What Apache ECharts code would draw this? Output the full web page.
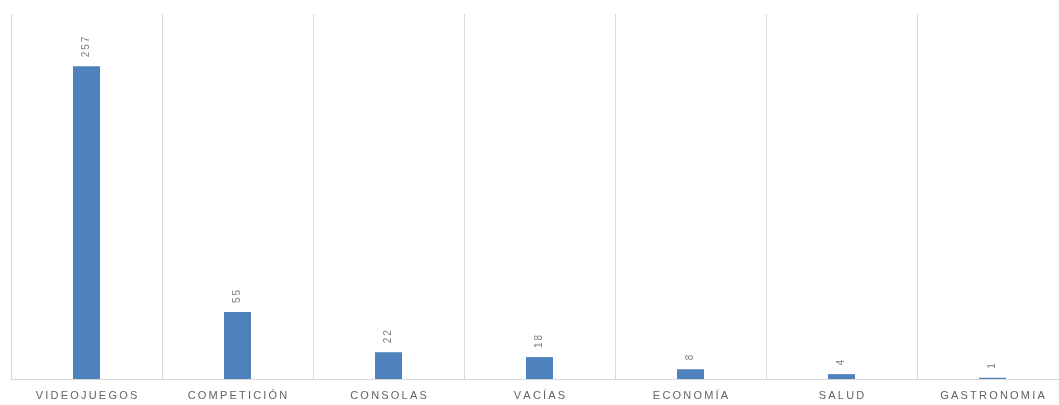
<!DOCTYPE html>
<html>
<head>
    <meta charset="utf-8" />
    <title></title>
    <style>
        html, body { margin: 0; padding: 0; background: #fff; }
        #chart { width: 1059px; height: 405px; }
    </style>
</head>
<body>
    <div id="chart"></div>
    <script src="https://cdn.jsdelivr.net/npm/echarts@6/dist/echarts.min.js"></script>
    <script>
        var categories = ['VIDEOJUEGOS', 'COMPETICIÓN', 'CONSOLAS', 'VACÍAS', 'ECONOMÍA', 'SALUD', 'GASTRONOMIA'];
        var values = [257, 55, 22, 18, 8, 4, 1];

        // spaced out letters, like the original
        function spaced(s) {
            return s.split('').join('\u2009');
        }

        var chart = echarts.init(document.getElementById('chart'));
        var option = {
            animation: false,
            grid: { left: 11, right: -9, top: 14, bottom: 26, outerBoundsMode: 'none', containLabel: false },
            xAxis: {
                type: 'category',
                data: categories,
                boundaryGap: true,
                axisLine: { lineStyle: { color: '#d9d9d9', width: 1 } },
                axisTick: { show: false },
                axisLabel: {
                    interval: 0,
                    margin: 11,
                    color: '#636363',
                    fontFamily: 'Liberation Sans',
                    fontSize: 11,
                    formatter: spaced
                },
                splitLine: { show: true, interval: 0, lineStyle: { color: '#d9d9d9', width: 1 } }
            },
            yAxis: {
                type: 'value',
                min: 0,
                max: 300,
                show: false,
                splitLine: { show: false }
            },
            series: [{
                type: 'bar',
                data: values,
                barWidth: 27,
                itemStyle: { color: '#4f81bd' },
                label: {
                    show: true,
                    position: 'top',
                    distance: 9,
                    rotate: 90,
                    align: 'left',
                    verticalAlign: 'middle',
                    color: '#7f7f7f',
                    fontFamily: 'Liberation Sans',
                    fontSize: 10,
                    formatter: function (p) { return spaced(String(p.value)); }
                }
            }]
        };
        chart.setOption(option);
    </script>
</body>
</html>
